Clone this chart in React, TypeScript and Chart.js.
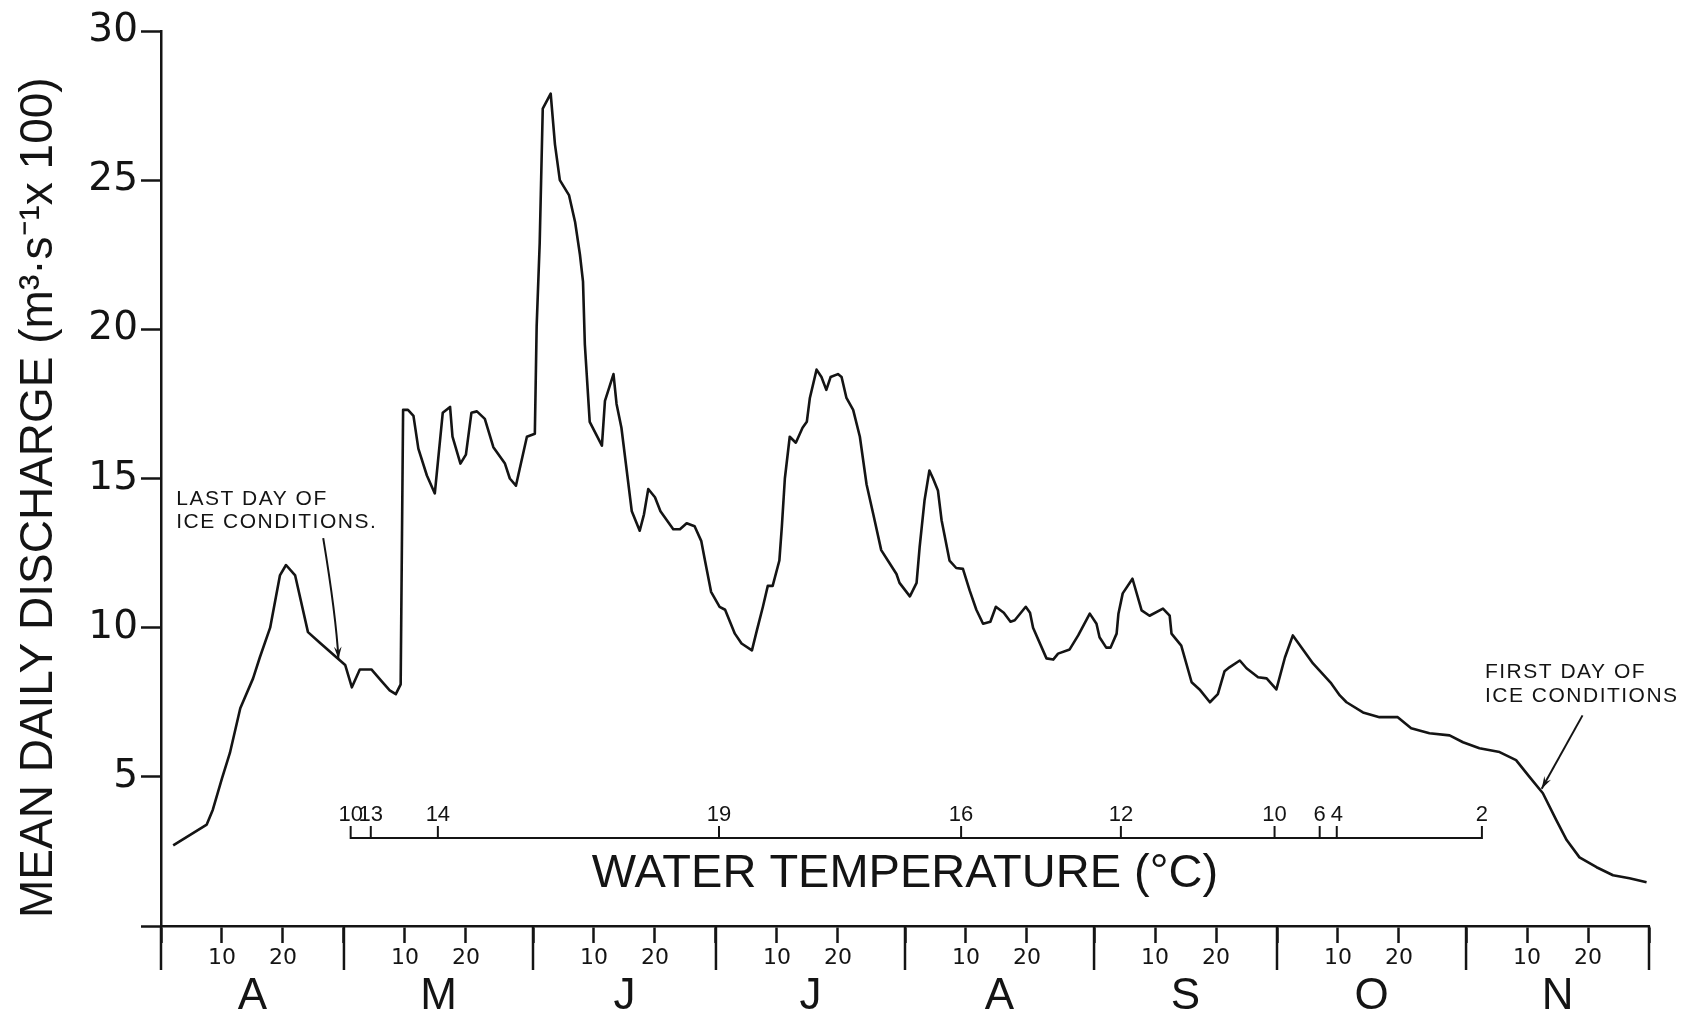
import React, { useEffect, useRef } from 'react';
import { Chart, registerables } from 'chart.js';

Chart.register(...registerables);

// Days counted from 1 April (0 = start of April), values in m3/s x 100
const dischargeDays = [
  2.0, 7.5, 8.5, 10.0, 11.3, 13.0, 15.1, 16.2, 17.9, 19.5,
  20.5, 22.0, 24.1, 26.0, 28.8, 30.2, 31.3, 32.6, 34.5, 36.2,
  37.5, 38.5, 39.3, 39.7, 40.5, 41.4, 42.2, 43.6, 44.9, 46.2,
  47.4, 47.8, 49.1, 50.0, 50.9, 51.8, 53.1, 54.5, 56.4, 57.2,
  58.2, 60.0, 61.3, 61.6, 62.1, 62.6, 63.9, 64.6, 65.4, 66.9,
  67.9, 68.7, 69.2, 69.5, 70.3, 72.3, 72.8, 74.2, 74.7, 75.5,
  77.2, 78.5, 79.2, 79.9, 81.0, 81.9, 84.0, 85.1, 86.2, 87.5,
  88.6, 89.2, 90.2, 91.6, 92.5, 94.1, 95.2, 96.9, 97.7, 98.7,
  99.5, 100.3, 101.4, 101.8, 102.3, 103.1, 104.1, 105.2, 105.9, 106.4,
  107.5, 108.3, 109.1, 109.8, 111.0, 111.6, 112.4, 113.5, 114.6, 115.7,
  116.8, 118.1, 119.5, 120.6, 121.1, 122.8, 123.9, 124.4, 125.2, 126.0,
  126.6, 127.4, 128.0, 129.3, 130.4, 131.5, 132.6, 133.7, 134.8, 136.0,
  136.9, 138.2, 139.3, 140.0, 141.8, 142.5, 143.0, 145.2, 146.3, 147.1,
  149.0, 150.4, 152.3, 153.4, 153.9, 155.0, 155.7, 156.7, 157.0, 157.7,
  159.3, 160.8, 162.1, 164.3, 165.4, 165.7, 167.3, 169.0, 170.3, 172.0,
  173.3, 174.4, 175.2, 176.9, 178.0, 179.9, 181.3, 182.9, 184.3, 185.6,
  188.9, 191.9, 193.3, 194.4, 197.1, 199.8, 202.8, 205.0, 208.0, 211.3,
  213.5, 216.2, 219.5, 222.2, 224.4, 226.6, 228.8, 230.5, 232.6, 235.4,
  238.1, 240.8, 243.6,
];

const dischargeValues = [
  2.7, 3.4, 3.9, 4.95, 5.8, 7.3, 8.3, 9.0, 10.0, 11.75,
  12.1, 11.75, 9.85, 9.5, 9.0, 8.75, 8.0, 8.6, 8.6, 8.2,
  7.9, 7.77, 8.1, 17.3, 17.3, 17.1, 16.0, 15.1, 14.5, 17.2,
  17.4, 16.4, 15.5, 15.8, 17.2, 17.25, 17.0, 16.05, 15.5, 15.0,
  14.76, 16.4, 16.5, 20.1, 22.9, 27.4, 27.9, 26.2, 25.0, 24.5,
  23.6, 22.5, 21.6, 19.5, 16.9, 16.1, 17.6, 18.5, 17.5, 16.7,
  13.9, 13.25, 13.8, 14.65, 14.37, 13.9, 13.3, 13.3, 13.5, 13.4,
  12.9, 12.25, 11.2, 10.7, 10.6, 9.8, 9.47, 9.24, 9.9, 10.7,
  11.4, 11.4, 12.25, 13.37, 15.0, 16.4, 16.2, 16.7, 16.9, 17.7,
  18.65, 18.4, 17.97, 18.4, 18.5, 18.4, 17.7, 17.3, 16.4, 14.8,
  13.8, 12.6, 12.15, 11.8, 11.5, 11.05, 11.5, 12.7, 14.26, 15.27,
  15.0, 14.6, 13.6, 12.25, 12.0, 11.97, 11.25, 10.6, 10.13, 10.2,
  10.7, 10.5, 10.2, 10.25, 10.7, 10.5, 10.0, 8.97, 8.93, 9.13,
  9.27, 9.74, 10.47, 10.13, 9.68, 9.33, 9.33, 9.8, 10.47, 11.15,
  11.64, 10.58, 10.4, 10.64, 10.4, 9.8, 9.4, 8.17, 7.93, 7.5,
  7.77, 8.54, 8.67, 8.9, 8.64, 8.34, 8.3, 7.93, 9.0, 9.74,
  8.8, 8.13, 7.73, 7.5, 7.16, 7.0, 7.0, 6.63, 6.46, 6.39,
  6.16, 5.96, 5.83, 5.56, 5.0, 4.45, 3.55, 2.88, 2.3, 1.97,
  1.7, 1.6, 1.47,
];

// Water temperature inset axis (day positions and °C labels)
const tempDays = [31.1, 34.4, 45.4, 91.5, 131.2, 157.4, 182.6, 190.0, 192.8, 216.6];
const tempLabels = ['10', '13', '14', '19', '16', '12', '10', '6', '4', '2'];

// Calendar axis
const monthStarts = [0, 30, 61, 91, 122, 153, 183, 214, 244];
const monthLetters = ['A', 'M', 'J', 'J', 'A', 'S', 'O', 'N'];
const minorDayLabels = ['10', '20'];
const yTickValues = [0, 5, 10, 15, 20, 25, 30];

const INK = '#141414';
const TEMP_LEVEL = 2.95;

const xTickList: { value: number; label: string }[] = [];
monthStarts.forEach((s, i) => {
  xTickList.push({ value: s, label: '' });
  if (i < monthStarts.length - 1) {
    minorDayLabels.forEach((l) => xTickList.push({ value: s + Number(l), label: l }));
  }
});
const monthMids = monthLetters.map((_, i) => (monthStarts[i] + monthStarts[i + 1]) / 2);

function drawArrowHead(ctx: CanvasRenderingContext2D, fx: number, fy: number, tx: number, ty: number) {
  const ang = Math.atan2(ty - fy, tx - fx);
  const len = 13;
  const spread = 0.3;
  ctx.beginPath();
  ctx.moveTo(tx, ty);
  ctx.lineTo(tx - len * Math.cos(ang - spread), ty - len * Math.sin(ang - spread));
  ctx.lineTo(tx - len * 0.6 * Math.cos(ang), ty - len * 0.6 * Math.sin(ang));
  ctx.lineTo(tx - len * Math.cos(ang + spread), ty - len * Math.sin(ang + spread));
  ctx.closePath();
  ctx.fill();
}

const overlay = {
  id: 'overlay',
  afterDraw(chart: any) {
    const { ctx, chartArea, scales } = chart;
    const xs = scales.x;
    const ys = scales.y;
    const px = (d: number) => xs.getPixelForValue(d);
    const py = (v: number) => ys.getPixelForValue(v);
    ctx.save();
    ctx.strokeStyle = INK;
    ctx.fillStyle = INK;
    ctx.lineCap = 'butt';

    // long month-boundary ticks
    ctx.lineWidth = 2.5;
    monthStarts.forEach((d) => {
      const x = px(d);
      ctx.beginPath();
      ctx.moveTo(x, chartArea.bottom);
      ctx.lineTo(x, chartArea.bottom + 44);
      ctx.stroke();
    });

    // water temperature ticks and labels
    const ty = py(TEMP_LEVEL);
    ctx.lineWidth = 2;
    ctx.font = '22px "Liberation Sans Narrow", "Liberation Sans", sans-serif';
    ctx.textAlign = 'center';
    ctx.textBaseline = 'alphabetic';
    tempDays.forEach((d, i) => {
      const x = px(d);
      ctx.beginPath();
      ctx.moveTo(x, ty + 1);
      ctx.lineTo(x, ty - 12);
      ctx.stroke();
      ctx.fillText(tempLabels[i], x, ty - 17);
    });
    ctx.font = '47px "Liberation Sans", sans-serif';
    ctx.fillText('WATER TEMPERATURE (°C)', px(122), py(1.31));

    // annotations
    ctx.textAlign = 'left';
    ctx.font = '21px "Liberation Sans", sans-serif';
    (ctx as any).letterSpacing = '1.5px';
    ctx.fillText('LAST DAY OF', px(2.5), py(14.1));
    ctx.fillText('ICE CONDITIONS.', px(2.5), py(13.33));
    ctx.fillText('FIRST DAY OF', px(217.1), py(8.3));
    ctx.fillText('ICE CONDITIONS', px(217.1), py(7.5));
    (ctx as any).letterSpacing = '0px';

    ctx.lineWidth = 2;
    // last day of ice: curved arrow
    const s1 = [px(26.6), py(13.0)];
    const c1 = [px(28.7), py(10.4)];
    const t1 = [px(29.1), py(8.95)];
    ctx.beginPath();
    ctx.moveTo(s1[0], s1[1]);
    ctx.quadraticCurveTo(c1[0], c1[1], t1[0], t1[1]);
    ctx.stroke();
    drawArrowHead(ctx, c1[0], c1[1], t1[0], t1[1]);

    // first day of ice: straight arrow
    const s2 = [px(233.1), py(7.06)];
    const t2 = [px(226.4), py(4.6)];
    ctx.beginPath();
    ctx.moveTo(s2[0], s2[1]);
    ctx.lineTo(t2[0], t2[1]);
    ctx.stroke();
    drawArrowHead(ctx, s2[0], s2[1], t2[0], t2[1]);

    ctx.restore();
  },
};

export default function App() {
  const ref = useRef<HTMLCanvasElement>(null);

  useEffect(() => {
    const canvas = ref.current;
    if (!canvas) return;
    const chart = new Chart(canvas, {
      type: 'line',
      data: {
        datasets: [
          {
            label: 'Mean daily discharge',
            data: dischargeDays.map((d, i) => ({ x: d, y: dischargeValues[i] })),
            borderColor: INK,
            borderWidth: 2.6,
            pointRadius: 0,
            tension: 0,
            borderJoinStyle: 'round',
            fill: false,
          },
          {
            label: 'Water temperature axis',
            data: [
              { x: tempDays[0], y: TEMP_LEVEL },
              { x: tempDays[tempDays.length - 1], y: TEMP_LEVEL },
            ],
            borderColor: INK,
            borderWidth: 2,
            pointRadius: 0,
            tension: 0,
            fill: false,
          },
        ],
      },
      options: {
        animation: false,
        responsive: false,
        devicePixelRatio: 1,
        layout: { padding: { top: 31, right: 47, bottom: 0, left: 0 } },
        plugins: { legend: { display: false }, tooltip: { enabled: false } },
        scales: {
          x: {
            type: 'linear',
            position: 'bottom',
            min: 0,
            max: 244,
            afterBuildTicks: (s: any) => {
              s.ticks = xTickList.map((t) => ({ value: t.value }));
            },
            afterFit: (s: any) => {
              s.height = 42;
            },
            ticks: {
              autoSkip: false,
              maxRotation: 0,
              minRotation: 0,
              padding: 2,
              color: INK,
              font: { family: '"DejaVu Sans", sans-serif', size: 22 },
              callback: (_v: any, i: number) => xTickList[i].label,
            },
            grid: { drawOnChartArea: false, tickLength: 17, tickWidth: 2.5, tickColor: INK },
            border: { display: true, color: INK, width: 2.5 },
          },
          xm: {
            type: 'linear',
            position: 'bottom',
            min: 0,
            max: 244,
            afterBuildTicks: (s: any) => {
              s.ticks = monthMids.map((v) => ({ value: v }));
            },
            afterFit: (s: any) => {
              s.height = 49;
            },
            ticks: {
              autoSkip: false,
              maxRotation: 0,
              minRotation: 0,
              padding: 2,
              color: INK,
              font: { family: '"Liberation Sans", sans-serif', size: 44 },
              callback: (_v: any, i: number) => monthLetters[i],
            },
            grid: { display: false, drawTicks: false },
            border: { display: false },
          },
          y: {
            type: 'linear',
            min: 0,
            max: 30,
            afterBuildTicks: (s: any) => {
              s.ticks = yTickValues.map((v) => ({ value: v }));
            },
            afterFit: (s: any) => {
              s.width = 161;
            },
            ticks: {
              padding: 3,
              color: INK,
              font: { family: '"DejaVu Sans", sans-serif', size: 39 },
              callback: (v: any) => (v === 0 ? '' : String(v)),
            },
            grid: { drawOnChartArea: false, tickLength: 20, tickWidth: 2.5, tickColor: INK },
            border: { display: true, color: INK, width: 2.5 },
            title: {
              display: true,
              text: 'MEAN DAILY DISCHARGE (m³·s⁻¹x 100)\u00A0\u00A0\u00A0',
              color: INK,
              font: { family: '"Liberation Sans", sans-serif', size: 46 },
              padding: { top: 12, bottom: 0 },
            },
          },
        },
      },
      plugins: [overlay],
    } as any);
    return () => chart.destroy();
  }, []);

  return (
    <div style={{ position: 'fixed', left: 0, top: 0, width: 1696, height: 1017, background: '#fff' }}>
      <canvas ref={ref} width={1696} height={1017} style={{ display: 'block', width: 1696, height: 1017 }} />
    </div>
  );
}
